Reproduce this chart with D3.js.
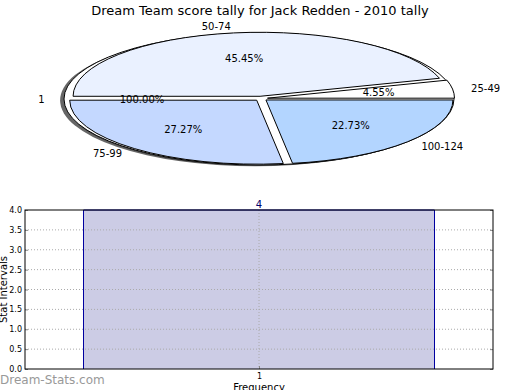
<!DOCTYPE html>
<html>
<head>
<meta charset="utf-8">
<script src="https://cdn.jsdelivr.net/npm/d3@7"></script>
<style>
  body { margin: 0; background: #fff; }
  svg { font-family: "DejaVu Sans", sans-serif; }
</style>
</head>
<body>
<svg id="chart" width="520" height="390"></svg>
<script>
// data
var chartTitle = "Dream Team score tally for Jack Redden - 2010 tally";
var outerLabels = ["1"];
var outerValues = [1];
var sliceLabels = ["25-49", "50-74", "75-99", "100-124"];
var sliceValues = [1, 10, 6, 5];
var barCategories = [1];
var barValues = [4];
var yTickValues = [0, 0.5, 1, 1.5, 2, 2.5, 3, 3.5, 4];

var sliceColors = ["#ffffff", "#eaf1ff", "#c4d8ff", "#b3d5ff"];

var svg = d3.select("#chart");

svg.append("text")
  .attr("x", 260).attr("y", 15)
  .attr("text-anchor", "middle")
  .style("font-size", "13px")
  .text(chartTitle);

// ---------- pie part ----------
// matplotlib starts at 3 o'clock and goes counterclockwise
var pie = d3.pie().sort(null)
  .startAngle(Math.PI / 2)
  .endAngle(Math.PI / 2 - 2 * Math.PI);

var pctFmt = function(v, total) { return d3.format(".2f")(v / total * 100) + "%"; };

// shadows all sit under the wedges
var shadowLayer = svg.append("g");
var wedgeLayer = svg.append("g");

function drawPie(values, labels, opt) {
  var k = opt.ry / opt.rx;
  var total = d3.sum(values);
  var arcs = pie(values);
  var arc = d3.arc().innerRadius(0).outerRadius(opt.rx);
  var tr = "translate(" + opt.cx + "," + opt.cy + ") scale(1," + k + ")";
  var gs = shadowLayer.append("g").attr("transform", tr);
  var g = wedgeLayer.append("g").attr("transform", tr);

  function offset(d) {
    var mid = (d.startAngle + d.endAngle) / 2;
    return [Math.sin(mid) * opt.explode * opt.rx, -Math.cos(mid) * opt.explode * opt.rx];
  }

  gs.selectAll("path")
    .data(arcs)
    .enter()
    .append("path")
    .attr("d", arc)
    .attr("transform", function(d) {
      var o = offset(d);
      return "translate(" + (o[0] - 0.02 * opt.rx) + "," + (o[1] + 0.02 * opt.rx) + ")";
    })
    .attr("fill", "#333")
    .attr("fill-opacity", opt.shadowOpacity);

  g.selectAll("path")
    .data(arcs)
    .enter()
    .append("path")
    .attr("d", arc)
    .attr("transform", function(d) {
      var o = offset(d);
      return "translate(" + o[0] + "," + o[1] + ")";
    })
    .attr("fill", function(d, i) { return opt.colors[i]; })
    .attr("stroke", "#000")
    .attr("stroke-width", 1)
    .attr("vector-effect", "non-scaling-stroke");

  return arcs.map(function(d, i) {
    var mid = (d.startAngle + d.endAngle) / 2;
    var o = offset(d);
    var pos = function(f) {
      return [opt.cx + o[0] + Math.sin(mid) * f * opt.rx,
              opt.cy + (o[1] - Math.cos(mid) * f * opt.rx) * k];
    };
    return { label: labels[i], pct: pctFmt(d.value, total), l: pos(1.1), p: pos(0.6), right: Math.sin(mid) > 0 };
  });
}

var outerText = drawPie(outerValues, outerLabels, { cx: 259, cy: 99, rx: 195, ry: 66, explode: 0, colors: ["#ffffff"], shadowOpacity: 0.75 });
var sliceText = drawPie(sliceValues, sliceLabels, { cx: 261, cy: 98.5, rx: 187, ry: 64, explode: 0.035, colors: sliceColors, shadowOpacity: 0.5 });

outerText.concat(sliceText).forEach(function(t) {
  svg.append("text")
    .attr("x", t.l[0]).attr("y", t.l[1])
    .attr("dy", "0.35em")
    .attr("text-anchor", t.right ? "start" : "end")
    .style("font-size", "10px")
    .text(t.label);
  svg.append("text")
    .attr("x", t.p[0]).attr("y", t.p[1])
    .attr("dy", "0.35em")
    .attr("text-anchor", "middle")
    .style("font-size", "10px")
    .text(t.pct);
});

// ---------- bar part ----------
var margin = {top: 210, right: 27, bottom: 21, left: 25},
  width = 520 - margin.left - margin.right,
  height = 390 - margin.top - margin.bottom;

var barSvg = svg.append("g")
  .attr("transform", "translate(" + margin.left + "," + margin.top + ")");

var x = d3.scaleLinear().domain([0.5, 1.5]).range([0, width]);
var y = d3.scaleLinear().domain([0, 4]).range([height, 0]);
var barWidth = 0.75;

// bars
barSvg.selectAll("rect")
  .data(barValues)
  .enter()
  .append("rect")
  .attr("x", function(d, i) { return x(barCategories[i] - barWidth / 2); })
  .attr("width", x(barWidth) - x(0))
  .attr("y", function(d) { return y(d); })
  .attr("height", function(d) { return height - y(d); })
  .attr("fill", "#ccccE5");

// grid on top of the bar
barSvg.selectAll("line.hgrid")
  .data(yTickValues.slice(1, -1))
  .enter()
  .append("line")
  .attr("x1", 0).attr("x2", width)
  .attr("y1", function(d) { return y(d); })
  .attr("y2", function(d) { return y(d); })
  .attr("stroke", "#aaa")
  .attr("stroke-dasharray", "1,2");

barSvg.selectAll("line.vgrid")
  .data(barCategories)
  .enter()
  .append("line")
  .attr("x1", function(d) { return x(d); })
  .attr("x2", function(d) { return x(d); })
  .attr("y1", 0).attr("y2", height)
  .attr("stroke", "#aaa")
  .attr("stroke-dasharray", "1,2");

// bar sides
barSvg.selectAll("path.baredge")
  .data(barValues)
  .enter()
  .append("path")
  .attr("d", function(d, i) {
    var x0 = x(barCategories[i] - barWidth / 2), x1 = x(barCategories[i] + barWidth / 2);
    return "M" + x0 + "," + height + "V" + y(d) + "H" + x1 + "V" + height;
  })
  .attr("fill", "none")
  .attr("stroke", "#0000a0")
  .attr("stroke-width", 1);

barSvg.selectAll("text.barlabel")
  .data(barValues)
  .enter()
  .append("text")
  .attr("x", function(d, i) { return x(barCategories[i]); })
  .attr("y", function(d) { return y(d) - 2; })
  .attr("text-anchor", "middle")
  .attr("fill", "#00006e")
  .style("font-size", "10px")
  .text(function(d) { return d; });

// axes
var yAxis = barSvg.append("g")
  .call(d3.axisLeft(y).tickValues(yTickValues).tickSize(-3).tickPadding(3).tickFormat(d3.format(".1f")));
yAxis.select(".domain").remove();
yAxis.selectAll("text").style("font-size", "8px").attr("font-family", "DejaVu Sans");
yAxis.selectAll("line").attr("stroke", "#888");

var yAxisR = barSvg.append("g")
  .attr("transform", "translate(" + width + ",0)")
  .call(d3.axisRight(y).tickValues(yTickValues).tickSize(-3).tickFormat(""));
yAxisR.select(".domain").remove();
yAxisR.selectAll("line").attr("stroke", "#888");

var xAxis = barSvg.append("g")
  .attr("transform", "translate(0," + height + ")")
  .call(d3.axisBottom(x).tickValues(barCategories).tickSize(-3).tickPadding(4).tickFormat(d3.format("d")));
xAxis.select(".domain").remove();
xAxis.selectAll("text").style("font-size", "8px").attr("font-family", "DejaVu Sans");
xAxis.selectAll("line").attr("stroke", "#888");

barSvg.append("rect")
  .attr("width", width).attr("height", height)
  .attr("fill", "none")
  .attr("stroke", "#000")
  .attr("stroke-width", 1);

barSvg.append("text")
  .attr("x", width / 2).attr("y", height + 22)
  .attr("text-anchor", "middle")
  .style("font-size", "10px")
  .text("Frequency");

svg.append("text")
  .attr("transform", "translate(7," + (margin.top + height / 2) + ") rotate(-90)")
  .attr("text-anchor", "middle")
  .style("font-size", "10px")
  .text("Stat Intervals");

svg.append("text")
  .attr("x", 0).attr("y", 384)
  .attr("fill", "#999")
  .style("font-size", "12px")
  .text("Dream-Stats.com");
</script>
</body>
</html>
